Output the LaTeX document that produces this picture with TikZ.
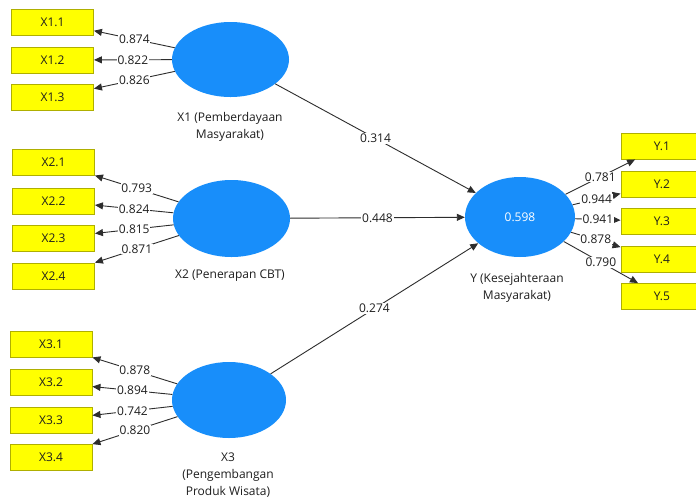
\documentclass[tikz,border=0pt]{standalone}
\usepackage{fontspec}
\setmainfont{Open Sans}
\usetikzlibrary{shapes.geometric,arrows.meta}
\definecolor{lvblue}{RGB}{24,142,250}
\definecolor{boxborder}{RGB}{175,175,0}
\definecolor{boxfill}{RGB}{255,255,0}
\definecolor{linec}{RGB}{45,45,45}
\definecolor{txt}{RGB}{30,30,30}
\begin{document}
\begin{tikzpicture}[x=1pt,y=-1pt,
  ind/.style={draw=boxborder, line width=0.9pt, fill=boxfill, minimum width=82pt, minimum height=26pt, inner sep=0pt, font=\fontsize{12}{13}\selectfont, text=txt},
  lv/.style={ellipse, fill=lvblue, inner sep=0pt},
  lnk/.style={draw=linec, line width=0.9pt, -{Triangle[length=8pt,width=7pt]}},
  coef/.style={fill=white, inner sep=0.8pt, font=\fontsize{12}{13}\selectfont, text=txt},
  lvcap/.style={align=center, font=\fontsize{12}{17}\selectfont, text=txt}]
\fill[white] (0,0) rectangle (696,499);
\clip (0,0) rectangle (696,499);
% latent variables
\node[lv, minimum width=117pt, minimum height=75pt] (X1) at (230.5,59.5) {};
\node[lv, minimum width=117pt, minimum height=77pt] (X2) at (231.5,218.5) {};
\node[lv, minimum width=114pt, minimum height=76pt] (X3) at (229,400) {};
\node[lv, minimum width=110pt, minimum height=80pt, text=white, font=\fontsize{12}{13}\selectfont] (Y) at (520,217) {0.598};
% captions
\node[lvcap] (c1) at (230,126.5) {X1 (Pemberdayaan\\Masyarakat)};
\node[lvcap] (c2) at (230,276) {X2 (Penerapan CBT)};
\node[lvcap] (c3) at (228,475) {X3\\(Pengembangan\\Produk Wisata)};
\node[lvcap] (cy) at (517,287.5) {Y (Kesejahteraan\\Masyarakat)};
% indicators
\node[ind] (X11) at (52.5,22) {X1.1};
\node[ind] (X12) at (52.5,60) {X1.2};
\node[ind] (X13) at (52.5,97.5) {X1.3};
\node[ind] (X21) at (53.5,162.5) {X2.1};
\node[ind] (X22) at (53.5,201) {X2.2};
\node[ind] (X23) at (53.5,238) {X2.3};
\node[ind] (X24) at (53.5,276) {X2.4};
\node[ind] (X31) at (51,344.5) {X3.1};
\node[ind] (X32) at (51,382.5) {X3.2};
\node[ind] (X33) at (51,420) {X3.3};
\node[ind] (X34) at (51,457.5) {X3.4};
\node[ind] (Y1) at (662,146) {Y.1};
\node[ind] (Y2) at (662,184) {Y.2};
\node[ind] (Y3) at (662,221.5) {Y.3};
\node[ind] (Y4) at (662,259.5) {Y.4};
\node[ind] (Y5) at (662,296.5) {Y.5};
% loadings
\draw[lnk] (X1) -- node[coef]{0.874} (X11);
\draw[lnk] (X1) -- node[coef]{0.822} (X12);
\draw[lnk] (X1) -- node[coef]{0.826} (X13);
\draw[lnk] (X2) -- node[coef]{0.793} (X21);
\draw[lnk] (X2) -- node[coef]{0.824} (X22);
\draw[lnk] (X2) -- node[coef]{0.815} (X23);
\draw[lnk] (X2) -- node[coef]{0.871} (X24);
\draw[lnk] (X3) -- node[coef]{0.878} (X31);
\draw[lnk] (X3) -- node[coef]{0.894} (X32);
\draw[lnk] (X3) -- node[coef]{0.742} (X33);
\draw[lnk] (X3) -- node[coef]{0.820} (X34);
\draw[lnk] (Y) -- node[coef]{0.781} (Y1);
\draw[lnk] (Y) -- node[coef]{0.944} (Y2);
\draw[lnk] (Y) -- node[coef]{0.941} (Y3);
\draw[lnk] (Y) -- node[coef]{0.878} (Y4);
\draw[lnk] (Y) -- node[coef]{0.790} (Y5);
% paths
\draw[lnk] (X1) -- node[coef]{0.314} (Y);
\draw[lnk] (X2) -- node[coef]{0.448} (Y);
\draw[lnk] (X3) -- node[coef]{0.274} (Y);
\end{tikzpicture}
\end{document}
